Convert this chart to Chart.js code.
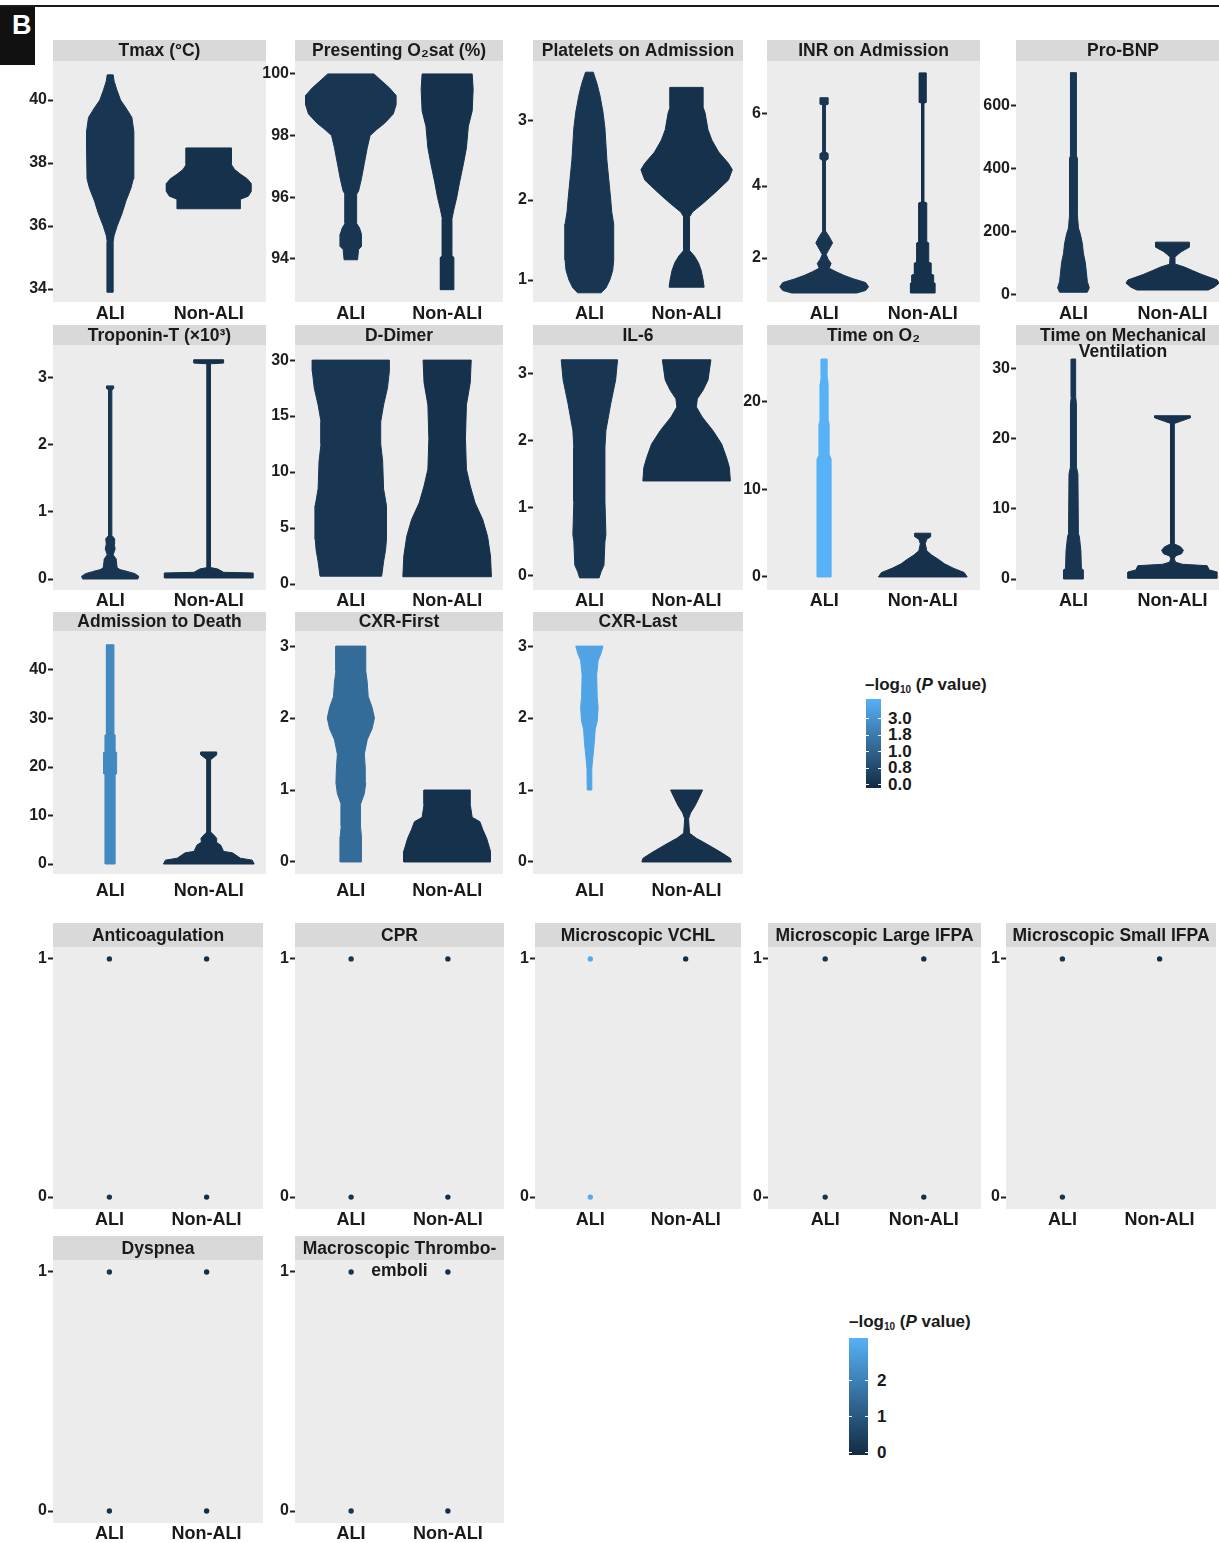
<!DOCTYPE html>
<html>
<head>
<meta charset="utf-8">
<title>ALI vs Non-ALI clinical variables</title>
<script src="https://cdn.jsdelivr.net/npm/chart.js@4.4.1/dist/chart.umd.min.js"></script>
<style>
  html, body { margin: 0; padding: 0; background: #ffffff; overflow: hidden; }
  body { position: relative; width: 1219px; height: 1543px; font-family: "Liberation Sans", Arial, Helvetica, sans-serif; color: #1a1a1a; }
  canvas { position: absolute; }
  #rule { position: absolute; left: 0; top: 5px; width: 1219px; height: 2px; background: #1a1a1a; }
  #tag { position: absolute; left: 0; top: 7px; width: 35px; height: 58px; background: #111111; }
  #tag span { position: absolute; left: 12px; top: 3px; color: #ffffff; font-weight: bold; font-size: 27px; line-height: 30px; }
  .legend { position: absolute; }
  .legend .ttl { position: absolute; left: 0; top: 0; white-space: nowrap; font-weight: bold; font-size: 17px; line-height: 20px; }
  .legend .ttl sub { font-size: 10px; vertical-align: -3px; line-height: 0; }
  .legend .bar { position: absolute; }
  .legend .lab { position: absolute; font-weight: bold; font-size: 17px; line-height: 17px; white-space: nowrap; }
  .legend .tick { position: absolute; width: 3px; height: 1px; background: #ffffff; }
</style>
</head>
<body>
<div id="rule"></div>
<div id="tag"><span>B</span></div>
<script>
// ---------------------------------------------------------------
// Data
// ---------------------------------------------------------------
const groups = ['ALI', 'Non-ALI'];

// Violin outlines: [value, half-width] pairs, listed from the bottom up.
// Half-widths are in category units (the two groups sit at x = 1 and x = 2).

// Tmax (°C)
const tmaxTicks = [34, 36, 38, 40];
const tmaxALI = [[33.9,0.03],[35.5,0.03],[35.7,0.04],[36.0,0.07],[36.4,0.12],[36.8,0.16],[37.2,0.21],[37.5,0.235],[38.5,0.24],[39.0,0.24],[39.45,0.22],[39.75,0.16],[40.0,0.105],[40.3,0.07],[40.6,0.04],[40.8,0.03]];
const tmaxNonALI = [[36.55,0.32],[36.85,0.32],[36.95,0.40],[37.1,0.43],[37.35,0.43],[37.5,0.39],[37.65,0.32],[37.8,0.26],[37.95,0.23],[38.48,0.23]];
const tmaxLogP = [0.15, 0];

// Presenting O2 saturation (%)
const o2satTicks = [94, 96, 98, 100];
const o2satALI = [[93.97,0.07],[94.3,0.08],[94.4,0.11],[94.8,0.11],[95.0,0.09],[95.15,0.06],[96.1,0.06],[96.2,0.08],[96.6,0.11],[97.1,0.14],[97.6,0.17],[98.0,0.20],[98.2,0.27],[98.4,0.35],[98.7,0.44],[99.0,0.47],[99.3,0.47],[99.55,0.40],[99.8,0.31],[100.0,0.24]];
const o2satNonALI = [[93.0,0.07],[94.05,0.07],[94.1,0.05],[95.3,0.05],[95.6,0.07],[96.0,0.10],[96.5,0.13],[97.1,0.17],[97.6,0.20],[98.3,0.22],[98.8,0.26],[99.5,0.27],[100.0,0.26]];
const o2satLogP = [0.15, 0];

// Platelets on admission
const plateletTicks = [1, 2, 3];
const plateletALI = [[0.84,0.12],[0.9,0.17],[1.0,0.21],[1.12,0.24],[1.25,0.25],[1.7,0.25],[1.85,0.23],[2.0,0.22],[2.25,0.20],[2.5,0.18],[2.9,0.16],[3.1,0.14],[3.3,0.11],[3.45,0.08],[3.6,0.04]];
const plateletNonALI = [[0.91,0.18],[1.0,0.17],[1.12,0.15],[1.22,0.12],[1.3,0.08],[1.37,0.03],[1.79,0.03],[1.85,0.06],[1.96,0.17],[2.09,0.29],[2.25,0.43],[2.38,0.47],[2.46,0.43],[2.6,0.33],[2.75,0.26],[2.88,0.22],[3.09,0.19],[3.16,0.17],[3.41,0.17]];
const plateletLogP = [0.15, 0];

// INR on admission
const inrTicks = [2, 4, 6];
const inrALI = [[1.03,0.33],[1.1,0.42],[1.2,0.45],[1.32,0.42],[1.42,0.30],[1.52,0.20],[1.62,0.12],[1.72,0.05],[1.85,0.07],[1.97,0.04],[2.1,0.02],[2.25,0.05],[2.42,0.085],[2.6,0.05],[2.75,0.013],[4.7,0.013],[4.75,0.04],[4.9,0.04],[4.95,0.013],[6.25,0.013],[6.27,0.04],[6.45,0.04]];
const inrNonALI = [[1.03,0.125],[1.3,0.125],[1.32,0.11],[1.53,0.11],[1.55,0.085],[1.86,0.085],[1.88,0.06],[2.42,0.06],[2.45,0.04],[3.53,0.04],[3.56,0.012],[6.3,0.012],[6.32,0.035],[7.14,0.035]];
const inrLogP = [0.15, 0];

// Pro-BNP
const bnpTicks = [0, 200, 400, 600];
const bnpALI = [[6,0.14],[20,0.16],[40,0.14],[70,0.13],[100,0.12],[130,0.10],[160,0.09],[190,0.07],[210,0.05],[250,0.04],[430,0.04],[440,0.03],[703,0.03]];
const bnpNonALI = [[13,0.36],[22,0.42],[35,0.47],[45,0.45],[55,0.36],[63,0.29],[75,0.20],[86,0.12],[95,0.03],[117,0.025],[125,0.05],[135,0.09],[149,0.17],[165,0.17]];
const bnpLogP = [0.15, 0];

// Troponin-T (x10^3)
const tropTicks = [0, 1, 2, 3];
const tropALI = [[0.0,0.28],[0.04,0.29],[0.08,0.25],[0.11,0.18],[0.14,0.10],[0.17,0.07],[0.3,0.06],[0.36,0.03],[0.45,0.05],[0.52,0.04],[0.6,0.045],[0.65,0.017],[2.82,0.017],[2.84,0.035],[2.88,0.035]];
const tropNonALI = [[0.015,0.45],[0.09,0.45],[0.1,0.15],[0.15,0.09],[0.17,0.017],[3.21,0.017],[3.22,0.15],[3.27,0.15]];
const tropLogP = [0.15, 0];

// D-Dimer (axis positions carry the printed break labels)
const ddimerTickPos = [0, 1, 2, 3, 4];
const ddimerTickLabels = ['0', '5', '10', '15', '30'];
const ddimerALI = [[0.14,0.32],[0.4,0.34],[0.6,0.36],[0.8,0.37],[1.4,0.37],[1.7,0.34],[2.2,0.33],[2.5,0.31],[2.9,0.31],[3.2,0.34],[3.5,0.38],[3.8,0.40],[4.0,0.40]];
const ddimerNonALI = [[0.13,0.46],[0.5,0.45],[0.85,0.42],[1.15,0.37],[1.45,0.29],[1.75,0.24],[2.05,0.20],[2.6,0.19],[3.2,0.20],[3.6,0.24],[4.0,0.25]];
const ddimerLogP = [0.15, 0];

// IL-6
const il6Ticks = [0, 1, 2, 3];
const il6ALI = [[-0.04,0.10],[0.05,0.12],[0.15,0.15],[0.5,0.16],[0.6,0.17],[1.1,0.16],[1.9,0.16],[2.15,0.17],[2.55,0.22],[2.9,0.27],[3.2,0.29]];
const il6NonALI = [[1.40,0.45],[1.6,0.44],[1.75,0.41],[1.95,0.36],[2.15,0.27],[2.35,0.16],[2.5,0.10],[2.62,0.11],[2.75,0.17],[2.9,0.22],[3.2,0.25]];
const il6LogP = [0.15, 0];

// Time on O2
const o2TimeTicks = [0, 10, 20];
const o2TimeALI = [[0,0.07],[13.5,0.07],[14,0.05],[17.5,0.05],[18,0.04],[22,0.04],[23,0.03],[24.9,0.03]];
const o2TimeNonALI = [[0,0.45],[0.5,0.42],[1.0,0.31],[1.5,0.22],[2.0,0.16],[2.5,0.09],[3.0,0.04],[3.8,0.025],[4.3,0.04],[4.6,0.08],[5.0,0.08]];
const o2TimeLogP = [4.2, 0];

// Time on mechanical ventilation
const ventTicks = [0, 10, 20, 30];
const ventALI = [[0,0.10],[1.3,0.10],[1.5,0.08],[4,0.075],[6,0.06],[6.5,0.05],[15,0.045],[16,0.03],[25,0.03],[26,0.022],[31.4,0.022]];
const ventNonALI = [[0.1,0.45],[1.0,0.45],[1.3,0.37],[1.9,0.35],[2.1,0.10],[2.4,0.03],[2.9,0.018],[3.3,0.03],[3.6,0.09],[4.1,0.11],[4.6,0.08],[5.0,0.02],[22.2,0.018],[22.5,0.08],[23.0,0.18],[23.3,0.18]];
const ventLogP = [0.15, 0];

// Admission to death
const deathTicks = [0, 10, 20, 30, 40];
const deathALI = [[0,0.05],[18.4,0.05],[18.6,0.065],[23.0,0.065],[23.2,0.05],[26.6,0.05],[26.8,0.038],[45.2,0.038]];
const deathNonALI = [[0,0.46],[0.8,0.44],[1.2,0.32],[2.3,0.24],[2.6,0.15],[3.9,0.12],[4.5,0.075],[5.3,0.08],[6.2,0.04],[6.6,0.018],[21.5,0.018],[22.0,0.05],[22.5,0.08],[23.1,0.08]];
const deathLogP = [2.3, 0];

// Chest X-ray scores
const cxrTicks = [0, 1, 2, 3];
const cxrFirstALI = [[0,0.11],[0.35,0.11],[0.5,0.10],[0.8,0.10],[0.95,0.14],[1.1,0.155],[1.3,0.15],[1.5,0.14],[1.7,0.17],[1.85,0.22],[2.0,0.245],[2.15,0.22],[2.3,0.18],[2.5,0.17],[2.65,0.155],[3.0,0.155]];
const cxrFirstNonALI = [[0,0.45],[0.15,0.45],[0.33,0.41],[0.45,0.37],[0.56,0.34],[0.62,0.26],[0.8,0.24],[1.0,0.24]];
const cxrFirstLogP = [1.2, 0];
const cxrLastALI = [[1.0,0.022],[1.3,0.025],[1.45,0.035],[1.65,0.05],[1.85,0.06],[1.95,0.08],[2.15,0.09],[2.3,0.08],[2.6,0.075],[2.8,0.09],[2.9,0.12],[3.0,0.14]];
const cxrLastNonALI = [[0,0.46],[0.05,0.45],[0.12,0.37],[0.2,0.27],[0.27,0.18],[0.33,0.10],[0.4,0.03],[0.6,0.02],[0.68,0.04],[0.79,0.09],[0.9,0.13],[1.0,0.165]];
const cxrLastLogP = [3.6, 0];

// Binary measures: observed values per group
const binaryTicks = [0, 1];
const anticoagALI = [0, 1], anticoagNonALI = [0, 1], anticoagLogP = [0.15, 0];
const cprALI = [0, 1], cprNonALI = [0, 1], cprLogP = [0.15, 0];
const vchlALI = [0, 1], vchlNonALI = [1], vchlLogP = [3.0, 0];
const largeIfpaALI = [0, 1], largeIfpaNonALI = [0, 1], largeIfpaLogP = [0.15, 0];
const smallIfpaALI = [0, 1], smallIfpaNonALI = [1], smallIfpaLogP = [0.15, 0];
const dyspneaALI = [0, 1], dyspneaNonALI = [0, 1], dyspneaLogP = [0.15, 0];
const thromboALI = [0, 1], thromboNonALI = [0, 1], thromboLogP = [0.15, 0];

// Colour-bar breaks (-log10 P)
const topLegendBreaks = [0.0, 0.8, 1.0, 1.8, 3.0];
const bottomLegendBreaks = [0, 1, 2];

// ---------------------------------------------------------------
// Colour scale
// ---------------------------------------------------------------
const LOW = [19, 43, 67], HIGH = [86, 177, 247];
function mix(t) {
  t = Math.max(0, Math.min(1, t));
  return 'rgb(' + LOW.map((l, i) => Math.round(l + (HIGH[i] - l) * t)).join(',') + ')';
}
// top bar: breaks are equally spaced; bar runs from -0.24 to 5 break steps
const TOP_BAR_LO = -0.24, TOP_BAR_HI = 5.0;
function topStep(v) {
  const b = topLegendBreaks;
  for (let i = 1; i < b.length; i++) {
    if (v <= b[i]) return i - 1 + (v - b[i - 1]) / (b[i] - b[i - 1]);
  }
  const n = b.length - 1;
  return n + (v - b[n]) / (b[n] - b[n - 1]);
}
function topFill(v) { return mix((topStep(v) - TOP_BAR_LO) / (TOP_BAR_HI - TOP_BAR_LO)); }
// bottom bar: linear from -0.08 to 3.15
const BOT_BAR_LO = -0.08, BOT_BAR_HI = 3.15;
function bottomFill(v) { return mix((v - BOT_BAR_LO) / (BOT_BAR_HI - BOT_BAR_LO)); }

// ---------------------------------------------------------------
// Page layout
// ---------------------------------------------------------------
const AXIS_W = 46, X_H = 28, X_MIN = 0.42, X_MAX = 2.58;
const rows = [
  { stripTop: 40,   plotTop: 61,   plotBottom: 302,  labelPad: 1 },
  { stripTop: 325,  plotTop: 345,  plotBottom: 590,  labelPad: 0 },
  { stripTop: 612,  plotTop: 631,  plotBottom: 874,  labelPad: 6 },
  { stripTop: 923,  plotTop: 947,  plotBottom: 1209, labelPad: 0 },
  { stripTop: 1236, plotTop: 1260, plotBottom: 1523, labelPad: 0 }
];
const colsUpper = [[53, 266], [295, 503], [533, 743], [767, 980], [1016, 1230]];
const colsLower = [[53, 267], [295, 508], [535, 745], [768, 985], [1006, 1220]];

const panelFrame = {
  id: 'panelFrame',
  beforeDraw(chart, args, opts) {
    const { ctx, chartArea: a } = chart;
    ctx.save();
    ctx.fillStyle = '#ececec';
    ctx.fillRect(a.left, a.top, a.right - a.left, a.bottom - a.top);
    ctx.fillStyle = '#d9d9d9';
    ctx.fillRect(a.left, 0, a.right - a.left, a.top);
    ctx.fillStyle = '#1a1a1a';
    ctx.font = 'bold 17.5px "Liberation Sans", Arial, Helvetica, sans-serif';
    ctx.textAlign = 'center';
    ctx.textBaseline = 'middle';
    const cx = (a.left + a.right) / 2;
    opts.lines.forEach((t, i) => ctx.fillText(t, cx, a.top / 2 + 1 + i * opts.gap));
    ctx.restore();
  }
};

function outline(profile, centre) {
  const right = profile.map(([y, w]) => ({ x: centre + w, y }));
  const left = profile.slice().reverse().map(([y, w]) => ({ x: centre - w, y }));
  return right.concat(left, [right[0]]);
}

function violinSet(profile, centre, colour) {
  return {
    data: outline(profile, centre),
    fill: 'shape',
    backgroundColor: colour,
    borderColor: colour,
    borderWidth: 1,
    pointRadius: 0,
    pointHitRadius: 0,
    tension: 0
  };
}

function dotSet(values, centre, colour) {
  return {
    data: values.map(v => ({ x: centre, y: v })),
    showLine: false,
    pointRadius: 2.7,
    pointBorderWidth: 0,
    pointBackgroundColor: colour,
    backgroundColor: colour,
    borderColor: colour
  };
}

function buildPanel(spec, row, col) {
  const [left, right] = col;
  const w = AXIS_W + (right - left);
  const h = row.plotBottom - row.stripTop + X_H;
  const cv = document.createElement('canvas');
  cv.width = w;
  cv.height = h;
  cv.style.left = (left - AXIS_W) + 'px';
  cv.style.top = row.stripTop + 'px';
  cv.style.width = w + 'px';
  cv.style.height = h + 'px';
  document.body.appendChild(cv);

  const tickPos = spec.tickPos;
  const tickText = spec.tickText || tickPos.map(String);

  new Chart(cv.getContext('2d'), {
    type: 'line',
    data: { datasets: spec.datasets },
    options: {
      responsive: false,
      animation: false,
      events: [],
      layout: { padding: { top: row.plotTop - row.stripTop, left: 0, right: 0, bottom: 0 } },
      plugins: {
        legend: { display: false },
        tooltip: { enabled: false },
        title: { display: false },
        panelFrame: { lines: spec.title, gap: spec.gap || 16 }
      },
      scales: {
        x: {
          type: 'linear', min: X_MIN, max: X_MAX,
          grid: { display: false, drawTicks: false },
          border: { display: false },
          afterBuildTicks: s => { s.ticks = [{ value: 1 }, { value: 2 }]; },
          afterFit: s => { s.height = X_H; },
          ticks: {
            callback: (v, i) => groups[i],
            padding: row.labelPad,
            autoSkip: false, maxRotation: 0,
            color: '#1a1a1a',
            font: { size: 18, weight: 'bold' }
          }
        },
        y: {
          type: 'linear', min: spec.range[0], max: spec.range[1],
          bounds: 'data',
          border: { display: false },
          grid: { drawOnChartArea: false, drawTicks: true, tickLength: 5, tickWidth: 2, tickColor: '#222222' },
          afterBuildTicks: s => { s.ticks = tickPos.map(v => ({ value: v })); },
          afterFit: s => { s.width = AXIS_W; },
          ticks: {
            callback: (v, i) => tickText[i],
            padding: 1,
            autoSkip: false,
            color: '#1e1e1e',
            font: { size: 16, weight: 'bold' }
          }
        }
      }
    },
    plugins: [panelFrame]
  });
}

Chart.defaults.font.family = '"Liberation Sans", Arial, Helvetica, sans-serif';

// ---------------------------------------------------------------
// Continuous measures (violins)
// ---------------------------------------------------------------
const violinPanels = [
  { title: ['Tmax (°C)'], r: 0, c: 0, range: [33.59, 41.24], tickPos: tmaxTicks, ali: tmaxALI, non: tmaxNonALI, logP: tmaxLogP },
  { title: ['Presenting O₂sat (%)'], r: 0, c: 1, range: [92.6, 100.42], tickPos: o2satTicks, ali: o2satALI, non: o2satNonALI, logP: o2satLogP },
  { title: ['Platelets on Admission'], r: 0, c: 2, range: [0.725, 3.74], tickPos: plateletTicks, ali: plateletALI, non: plateletNonALI, logP: plateletLogP },
  { title: ['INR on Admission'], r: 0, c: 3, range: [0.78, 7.47], tickPos: inrTicks, ali: inrALI, non: inrNonALI, logP: inrLogP },
  { title: ['Pro-BNP'], r: 0, c: 4, range: [-25, 740], tickPos: bnpTicks, ali: bnpALI, non: bnpNonALI, logP: bnpLogP },
  { title: ['Troponin-T (×10³)'], r: 1, c: 0, range: [-0.164, 3.49], tickPos: tropTicks, ali: tropALI, non: tropNonALI, logP: tropLogP },
  { title: ['D-Dimer'], r: 1, c: 1, range: [-0.107, 4.27], tickPos: ddimerTickPos, tickText: ddimerTickLabels, ali: ddimerALI, non: ddimerNonALI, logP: ddimerLogP },
  { title: ['IL-6'], r: 1, c: 2, range: [-0.22, 3.42], tickPos: il6Ticks, ali: il6ALI, non: il6NonALI, logP: il6LogP },
  { title: ['Time on O₂'], r: 1, c: 3, range: [-1.49, 26.5], tickPos: o2TimeTicks, ali: o2TimeALI, non: o2TimeNonALI, logP: o2TimeLogP },
  { title: ['Time on Mechanical', 'Ventilation'], gap: 16, r: 1, c: 4, range: [-1.57, 33.4], tickPos: ventTicks, ali: ventALI, non: ventNonALI, logP: ventLogP },
  { title: ['Admission to Death'], r: 2, c: 0, range: [-2.06, 48.04], tickPos: deathTicks, ali: deathALI, non: deathNonALI, logP: deathLogP },
  { title: ['CXR-First'], r: 2, c: 1, range: [-0.167, 3.21], tickPos: cxrTicks, ali: cxrFirstALI, non: cxrFirstNonALI, logP: cxrFirstLogP },
  { title: ['CXR-Last'], r: 2, c: 2, range: [-0.167, 3.21], tickPos: cxrTicks, ali: cxrLastALI, non: cxrLastNonALI, logP: cxrLastLogP }
];

violinPanels.forEach(p => {
  p.datasets = [
    violinSet(p.ali, 1, topFill(p.logP[0])),
    violinSet(p.non, 2, topFill(p.logP[1]))
  ];
  buildPanel(p, rows[p.r], colsUpper[p.c]);
});

// ---------------------------------------------------------------
// Binary measures (collapsed violins shown as points)
// ---------------------------------------------------------------
const binaryPanels = [
  { title: ['Anticoagulation'], r: 3, c: 0, ali: anticoagALI, non: anticoagNonALI, logP: anticoagLogP },
  { title: ['CPR'], r: 3, c: 1, ali: cprALI, non: cprNonALI, logP: cprLogP },
  { title: ['Microscopic VCHL'], r: 3, c: 2, ali: vchlALI, non: vchlNonALI, logP: vchlLogP },
  { title: ['Microscopic Large IFPA'], r: 3, c: 3, ali: largeIfpaALI, non: largeIfpaNonALI, logP: largeIfpaLogP },
  { title: ['Microscopic Small IFPA'], r: 3, c: 4, ali: smallIfpaALI, non: smallIfpaNonALI, logP: smallIfpaLogP },
  { title: ['Dyspnea'], r: 4, c: 0, ali: dyspneaALI, non: dyspneaNonALI, logP: dyspneaLogP },
  { title: ['Macroscopic Thrombo-', 'emboli'], gap: 22, r: 4, c: 1, ali: thromboALI, non: thromboNonALI, logP: thromboLogP }
];

binaryPanels.forEach(p => {
  p.range = [-0.05, 1.05];
  p.tickPos = binaryTicks;
  p.datasets = [
    dotSet(p.ali, 1, bottomFill(p.logP[0])),
    dotSet(p.non, 2, bottomFill(p.logP[1]))
  ];
  buildPanel(p, rows[p.r], colsLower[p.c]);
});

// ---------------------------------------------------------------
// Colour-bar legends
// ---------------------------------------------------------------
function legendBox(left, top) {
  const el = document.createElement('div');
  el.className = 'legend';
  el.style.left = left + 'px';
  el.style.top = top + 'px';
  el.innerHTML = '<div class="ttl">&ndash;log<sub>10</sub> (<i>P</i> value)</div>';
  document.body.appendChild(el);
  return el;
}
function addBar(el, x, y, w, h) {
  const bar = document.createElement('div');
  bar.className = 'bar';
  Object.assign(bar.style, { left: x + 'px', top: y + 'px', width: w + 'px', height: h + 'px',
    background: 'linear-gradient(to bottom, ' + mix(1) + ', ' + mix(0) + ')' });
  el.appendChild(bar);
}
function addTick(el, x, y, w, text, labelX) {
  [x, x + w - 3].forEach(tx => {
    const t = document.createElement('div');
    t.className = 'tick';
    t.style.left = tx + 'px';
    t.style.top = Math.round(y) + 'px';
    el.appendChild(t);
  });
  const lab = document.createElement('div');
  lab.className = 'lab';
  lab.style.left = labelX + 'px';
  lab.style.top = (y - 8.5) + 'px';
  lab.textContent = text;
  el.appendChild(lab);
}

// upper legend: equally spaced breaks
(function () {
  const el = legendBox(865, 675);
  const barX = 1, barY = 24, barW = 15, barH = 89;
  addBar(el, barX, barY, barW, barH);
  const zeroY = 109, stepPx = 16.5;
  topLegendBreaks.forEach((b, i) => addTick(el, barX, zeroY - i * stepPx, barW, b.toFixed(1), 23));
})();

// lower legend: linear breaks
(function () {
  const el = legendBox(849, 1312);
  const barX = 0, barY = 26, barW = 19, barH = 117;
  addBar(el, barX, barY, barW, barH);
  const zeroY = 140, unitPx = 36;
  bottomLegendBreaks.forEach(b => addTick(el, barX, zeroY - b * unitPx, barW, String(b), 28));
})();
</script>
</body>
</html>
